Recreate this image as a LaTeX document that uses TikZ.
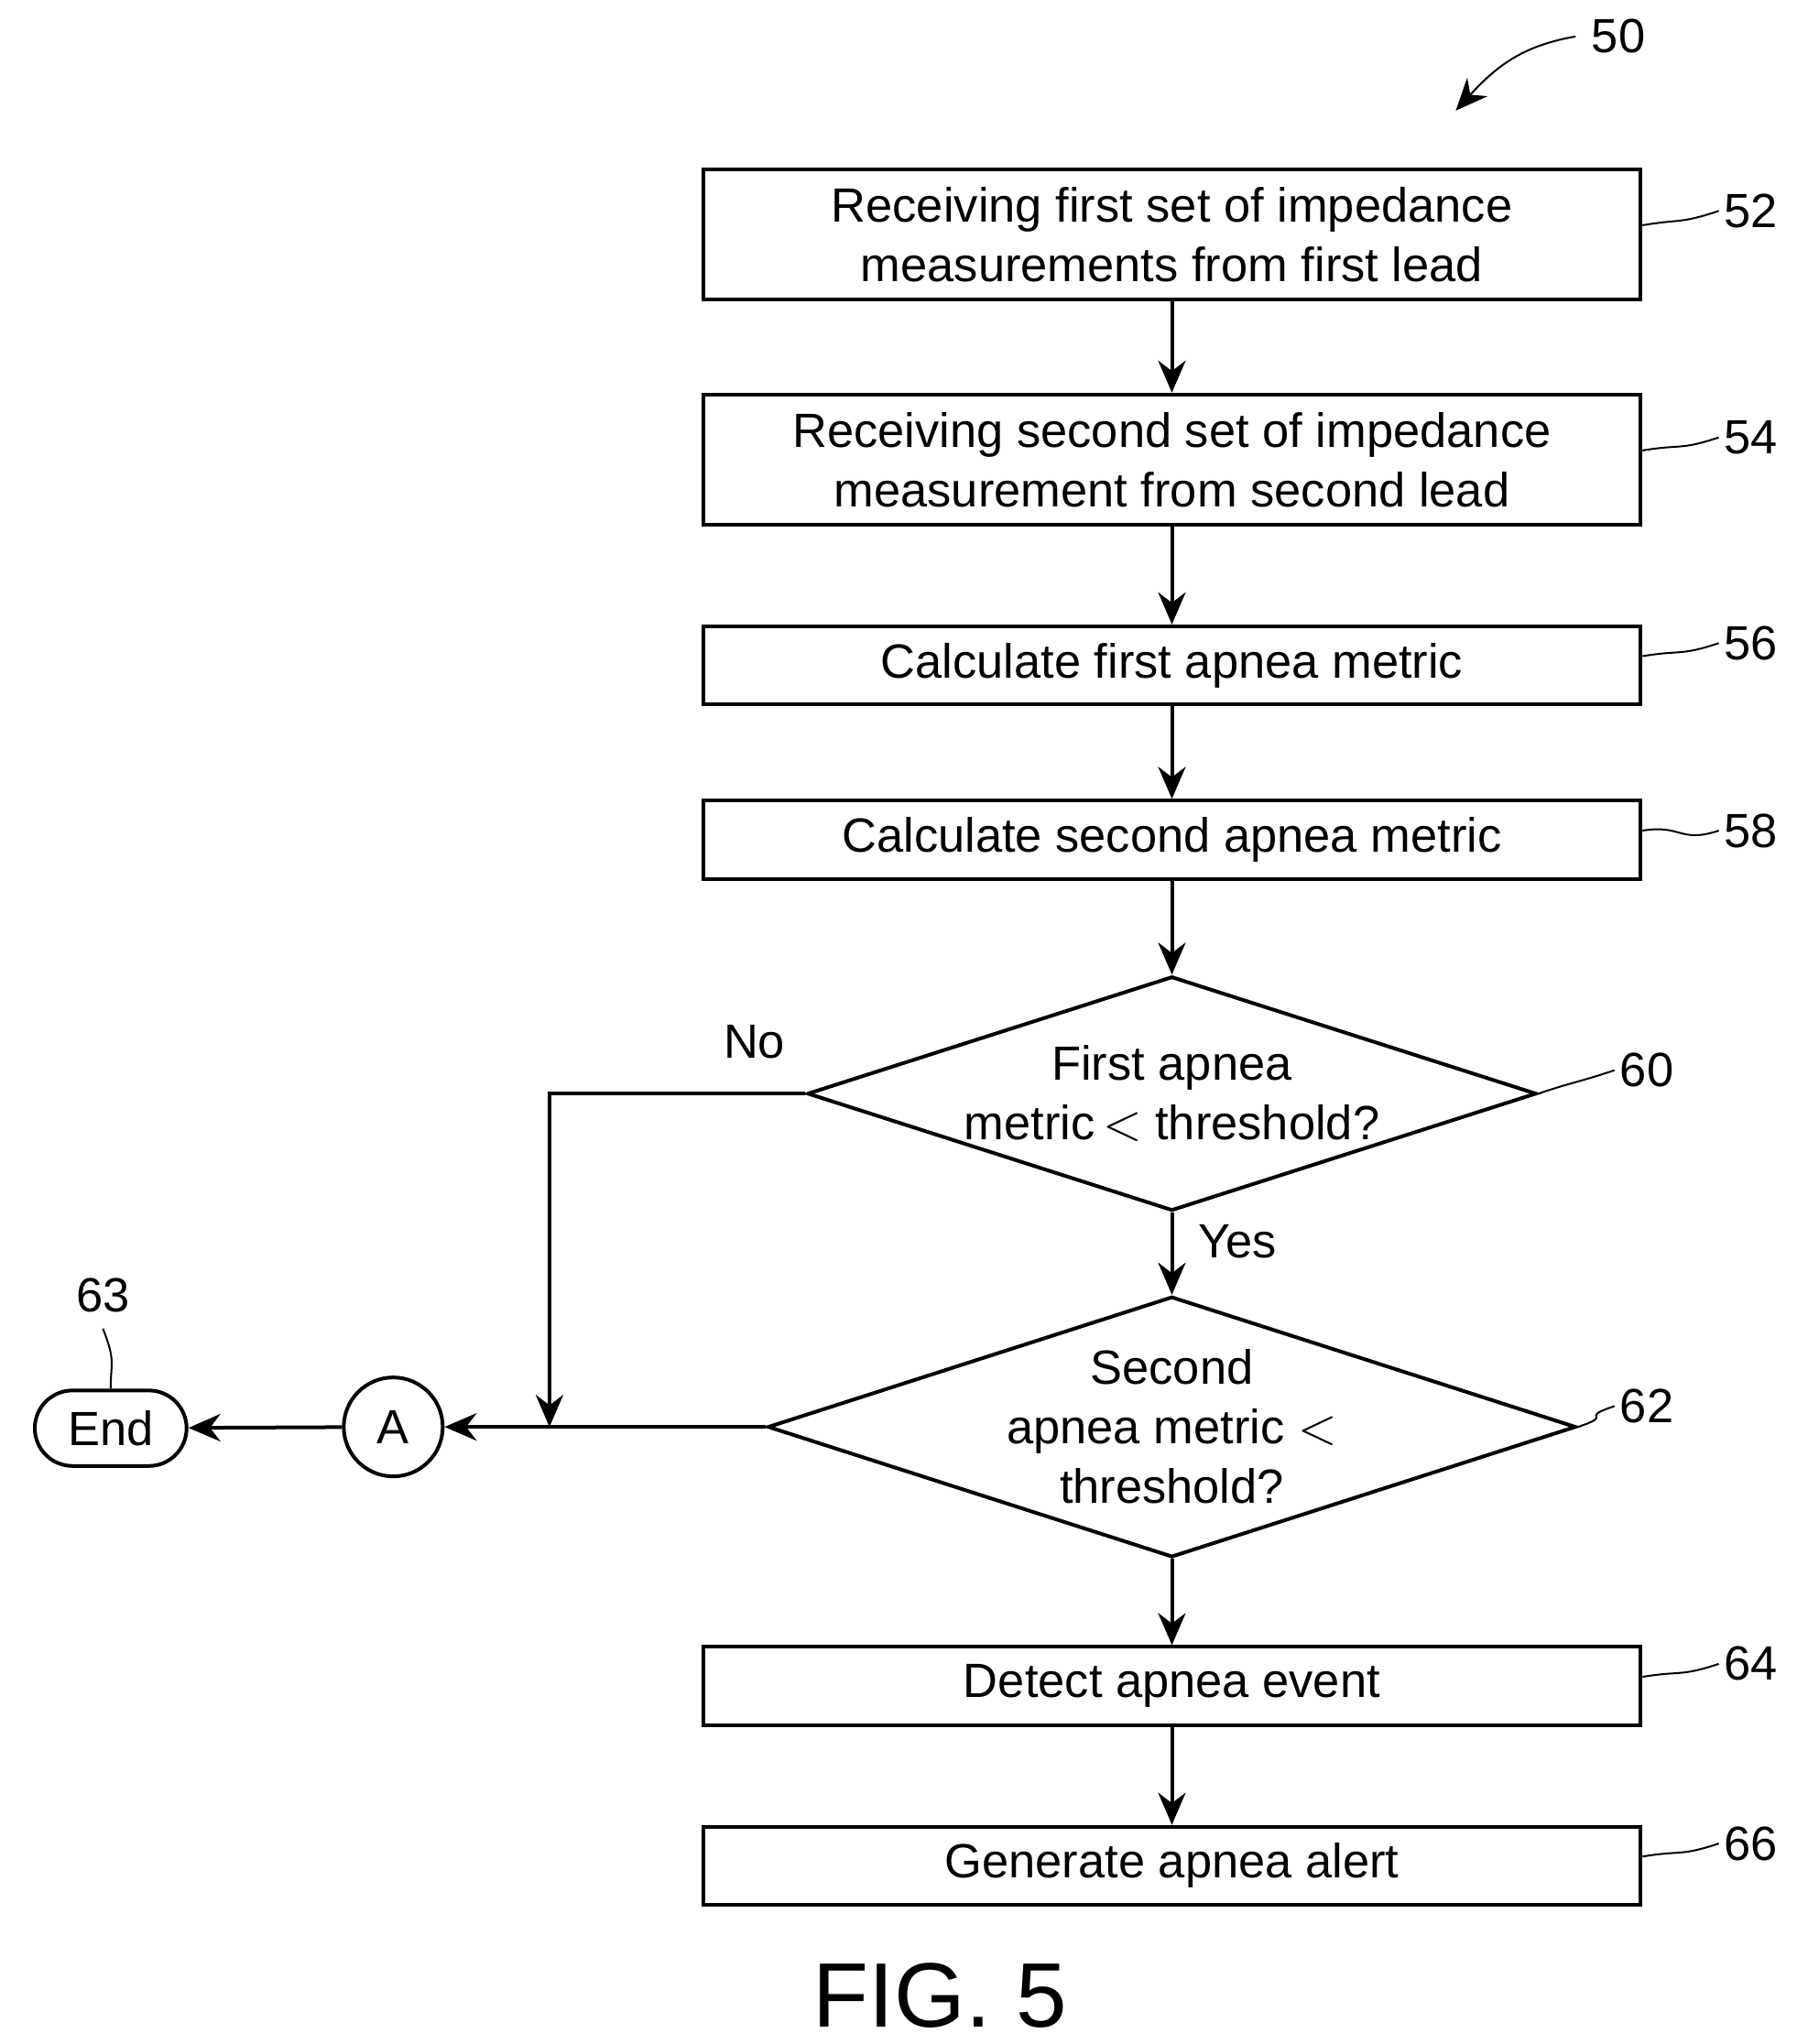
\documentclass[tikz,border=0pt]{standalone}
\usepackage{fontspec}
\setmainfont{Liberation Sans}
\usetikzlibrary{shapes.geometric,shapes.misc,arrows.meta}
\tikzset{
  proc/.style={draw,thick,minimum width=7.2cm,align=center,font=\fontsize{10.5}{13}\selectfont},
  dec/.style={draw,thick,diamond,aspect=3.1,minimum width=5.6cm,minimum height=1.8cm,inner sep=0pt,align=center,font=\fontsize{10.5}{13}\selectfont},
  flow/.style={thick,-{Stealth[length=7pt,width=6pt]}},
  lbl/.style={font=\fontsize{10.5}{13}\selectfont},
  lead/.style={thin}
}
\begin{document}
\begin{tikzpicture}
\useasboundingbox (0,0) rectangle (13.8,-15.7);
% steps
\node[proc,minimum height=1cm] (s52) at (9,-1.8) {Receiving first set of impedance\\measurements from first lead};
\node[proc,minimum height=1cm] (s54) at (9,-3.53) {Receiving second set of impedance\\measurement from second lead};
\node[proc,minimum height=0.6cm] (s56) at (9,-5.11) {Calculate first apnea metric};
\node[proc,minimum height=0.6cm] (s58) at (9,-6.45) {Calculate second apnea metric};
\node[dec] (d60) at (9,-8.4) {First apnea\\metric\,$<$ threshold?};
\node[dec] (d62) at (9,-10.96) {Second\\apnea metric $<$\\threshold?};
\node[proc,minimum height=0.6cm] (s64) at (9,-12.95) {Detect apnea event};
\node[proc,minimum height=0.6cm] (s66) at (9,-14.33) {Generate apnea alert};
\node[draw,thick,circle,minimum size=0.76cm,inner sep=0pt,lbl] (cA) at (3.02,-10.96) {A};
\node[draw,thick,rounded rectangle,minimum width=1.4cm,minimum height=0.58cm,lbl] (end) at (0.85,-10.97) {End};
\coordinate (join) at (4.22,-10.96);
% connectors
\draw[flow] (s52) -- (s54);
\draw[flow] (s54) -- (s56);
\draw[flow] (s56) -- (s58);
\draw[flow] (s58) -- (d60);
\draw[flow] (d60) -- node[right,lbl,pos=0.35,xshift=2pt] {Yes} (d62);
\draw[flow] (d62) -- (s64);
\draw[flow] (s64) -- (s66);
\draw[flow] (d60.west) -- node[above,lbl,pos=0.2,yshift=4pt] {No} (4.22,-8.4) -- (join);
\draw[flow] (d62.west) -- (cA);
\draw[flow] (cA) -- (end);
% reference numerals
\foreach \n/\y/\t in {s52/-1.62/52,s54/-3.36/54,s56/-4.94/56,s58/-6.38/58,s64/-12.78/64,s66/-14.16/66}
  \draw[lead] (\n.east) ++(0,0.07) .. controls +(0.3,0.05) and +(-0.3,-0.1) .. (13.2,\y) node[right,inner sep=1pt,lbl] {\t};
\draw[lead] (d60.east) .. controls +(0.3,0.1) and +(-0.3,-0.1) .. (12.4,-8.22) node[right,inner sep=1pt,lbl] {60};
\draw[lead] (d62.east) .. controls +(0.3,0.1) and +(-0.3,-0.1) .. (12.4,-10.8) node[right,inner sep=1pt,lbl] {62};
\node[lbl] (n63) at (0.79,-9.95) {63};
\draw[lead] (n63.south) .. controls +(0.1,-0.25) and +(0,0.2) .. (end.north);
\node[lbl] (n50) at (12.43,-0.28) {50};
\draw[lead,-{Stealth[length=7pt,width=6pt]}] (n50.west) .. controls (11.7,-0.35) and (11.5,-0.5) .. (11.18,-0.85);
\node[font=\fontsize{20}{24}\selectfont] (fig) at (7.22,-15.33) {FIG. 5};
\end{tikzpicture}
\end{document}
